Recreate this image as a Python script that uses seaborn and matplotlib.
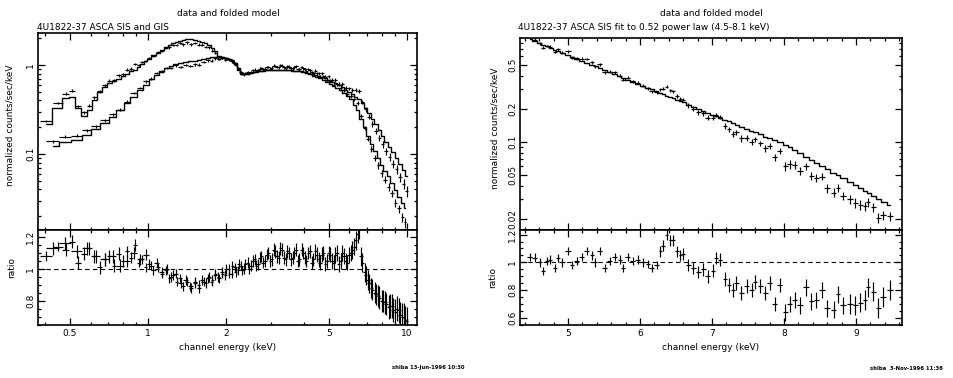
import matplotlib
matplotlib.use("Agg")
import matplotlib.pyplot as plt
import numpy as np
import seaborn as sns
from matplotlib.ticker import FixedLocator, NullFormatter, MultipleLocator

# ---- left plot: SIS and GIS, folded model + ratio ----
sis_e = [0.405, 0.45, 0.481, 0.509, 0.536, 0.566, 0.594, 0.621, 0.65, 0.68,
         0.71, 0.74, 0.77, 0.80, 0.83, 0.86, 0.89, 0.92, 0.95, 0.98,
         1.01, 1.05, 1.09, 1.13, 1.17, 1.21, 1.25, 1.29, 1.33, 1.37,
         1.42, 1.47, 1.52, 1.57, 1.62, 1.67, 1.72, 1.77, 1.82, 1.87,
         1.93, 1.99, 2.05, 2.11, 2.17, 2.23, 2.29, 2.36, 2.43, 2.50,
         2.58, 2.66, 2.74, 2.83, 2.92, 3.01, 3.10, 3.20, 3.30, 3.40,
         3.51, 3.62, 3.73, 3.85, 3.97, 4.09, 4.22, 4.35, 4.48, 4.62,
         4.76, 4.91, 5.06, 5.22, 5.38, 5.55, 5.72, 5.90, 6.08, 6.27,
         6.46, 6.66, 6.87, 7.08, 7.30, 7.53, 7.76, 8.00, 8.25, 8.51,
         8.77, 9.04, 9.32, 9.61, 9.84]
sis_model = [0.22, 0.33, 0.425, 0.44, 0.33, 0.27, 0.31, 0.40, 0.50, 0.56,
             0.62, 0.66, 0.70, 0.75, 0.80, 0.85, 0.89, 0.95, 1.02, 1.10,
             1.17, 1.28, 1.38, 1.48, 1.58, 1.68, 1.76, 1.82, 1.88, 1.92,
             1.95, 1.94, 1.92, 1.88, 1.82, 1.75, 1.66, 1.56, 1.42, 1.24,
             1.22, 1.20, 1.17, 1.13, 1.05, 0.92, 0.82, 0.79, 0.80, 0.82,
             0.84, 0.85, 0.86, 0.87, 0.87, 0.88, 0.88, 0.88, 0.88, 0.87,
             0.87, 0.86, 0.86, 0.85, 0.84, 0.81, 0.79, 0.76, 0.74, 0.71,
             0.68, 0.64, 0.61, 0.58, 0.55, 0.52, 0.48, 0.45, 0.41, 0.36,
             0.31, 0.25, 0.20, 0.16, 0.13, 0.107, 0.09, 0.076, 0.065, 0.056,
             0.047, 0.039, 0.033, 0.028, 0.025]
sis_ratio = [1.08, 1.14, 1.12, 1.17, 1.04, 1.095, 1.13, 1.08, 1.01, 1.06,
             1.08, 1.02, 1.095, 1.05, 1.11, 1.07, 1.15, 1.04, 1.06, 1.01,
             1.03, 0.99, 1.01, 0.97, 0.99, 0.94, 0.96, 0.92, 0.94, 0.89,
             0.92, 0.88, 0.92, 0.90, 0.93, 0.91, 0.95, 0.93, 0.97, 0.95,
             0.98, 0.96, 1.00, 0.97, 1.01, 0.99, 1.02, 1.00, 1.04, 1.02,
             1.06, 1.03, 1.08, 1.05, 1.10, 1.06, 1.11, 1.07, 1.12, 1.06,
             1.10, 1.07, 1.12, 1.06, 1.10, 1.05, 1.11, 1.06, 1.09, 1.04,
             1.10, 1.05, 1.09, 1.04, 1.10, 1.05, 1.08, 1.04, 1.10, 1.14,
             1.22, 1.08, 0.98, 0.93, 0.88, 0.85, 0.83, 0.80, 0.79, 0.76,
             0.77, 0.73, 0.74, 0.70, 0.68]
sis_err = [0.03, 0.03, 0.04, 0.04, 0.04, 0.04, 0.04, 0.04, 0.04, 0.04,
           0.04, 0.04, 0.04, 0.035, 0.035, 0.035, 0.035, 0.03, 0.03, 0.03,
           0.03, 0.03, 0.03, 0.03, 0.03, 0.03, 0.03, 0.03, 0.03, 0.03,
           0.03, 0.03, 0.03, 0.03, 0.03, 0.03, 0.03, 0.03, 0.03, 0.03,
           0.03, 0.03, 0.03, 0.03, 0.03, 0.03, 0.03, 0.035, 0.035, 0.035,
           0.035, 0.035, 0.035, 0.035, 0.035, 0.04, 0.04, 0.04, 0.04, 0.04,
           0.04, 0.04, 0.04, 0.04, 0.04, 0.04, 0.04, 0.04, 0.045, 0.045,
           0.045, 0.045, 0.045, 0.05, 0.05, 0.05, 0.05, 0.05, 0.05, 0.055,
           0.06, 0.06, 0.06, 0.06, 0.065, 0.065, 0.07, 0.07, 0.07, 0.075,
           0.075, 0.08, 0.08, 0.085, 0.09]

gis_e = [0.43, 0.48, 0.53, 0.58, 0.63, 0.68, 0.73, 0.78, 0.83, 0.88,
         0.93, 0.98, 1.03, 1.08, 1.13, 1.18, 1.23, 1.28, 1.34, 1.40,
         1.46, 1.52, 1.58, 1.64, 1.70, 1.76, 1.82, 1.88, 1.94, 2.00,
         2.06, 2.12, 2.18, 2.24, 2.31, 2.38, 2.46, 2.54, 2.62, 2.70,
         2.79, 2.88, 2.97, 3.06, 3.15, 3.25, 3.35, 3.46, 3.57, 3.68,
         3.80, 3.92, 4.04, 4.17, 4.30, 4.43, 4.56, 4.70, 4.84, 4.99,
         5.14, 5.30, 5.46, 5.63, 5.80, 5.98, 6.16, 6.35, 6.54, 6.74,
         6.94, 7.15, 7.37, 7.60, 7.83, 8.07, 8.32, 8.58, 8.85, 9.13,
         9.42, 9.72, 10.0]
gis_model = [0.123, 0.135, 0.145, 0.163, 0.19, 0.225, 0.26, 0.31, 0.37, 0.44,
             0.52, 0.60, 0.69, 0.78, 0.86, 0.93, 0.98, 1.02, 1.05, 1.08,
             1.10, 1.12, 1.15, 1.17, 1.20, 1.22, 1.24, 1.25, 1.23, 1.21,
             1.18, 1.12, 1.02, 0.88, 0.80, 0.79, 0.81, 0.83, 0.84, 0.85,
             0.86, 0.87, 0.87, 0.88, 0.88, 0.88, 0.88, 0.87, 0.87, 0.86,
             0.86, 0.85, 0.84, 0.82, 0.80, 0.78, 0.76, 0.74, 0.71, 0.68,
             0.65, 0.62, 0.59, 0.56, 0.53, 0.50, 0.47, 0.44, 0.41, 0.37,
             0.33, 0.29, 0.25, 0.215, 0.185, 0.16, 0.138, 0.12, 0.104, 0.09,
             0.077, 0.066, 0.057]
gis_ratio = [1.13, 1.16, 1.11, 1.13, 1.08, 1.06, 1.08, 1.02, 1.05, 1.10,
             1.06, 1.09, 1.02, 1.04, 0.98, 1.00, 0.95, 0.97, 0.91, 0.93,
             0.89, 0.91, 0.88, 0.92, 0.94, 0.92, 0.96, 0.94, 0.97, 1.00,
             0.97, 1.02, 0.98, 1.03, 0.99, 1.03, 1.00, 1.05, 1.02, 1.07,
             1.04, 1.09, 1.05, 1.12, 1.08, 1.13, 1.07, 1.11, 1.06, 1.10,
             1.05, 1.12, 1.07, 1.10, 1.04, 1.11, 1.06, 1.09, 1.03, 1.10,
             1.05, 1.09, 1.03, 1.10, 1.05, 1.09, 1.12, 1.18, 1.25, 1.04,
             0.96, 0.91, 0.87, 0.84, 0.82, 0.80, 0.78, 0.77, 0.74, 0.75,
             0.71, 0.70, 0.67]
gis_err = [0.04, 0.04, 0.04, 0.04, 0.04, 0.04, 0.04, 0.04, 0.04, 0.035,
           0.035, 0.035, 0.03, 0.03, 0.03, 0.03, 0.03, 0.03, 0.03, 0.03,
           0.03, 0.03, 0.03, 0.03, 0.03, 0.03, 0.03, 0.03, 0.03, 0.03,
           0.03, 0.03, 0.03, 0.03, 0.03, 0.035, 0.035, 0.035, 0.035, 0.035,
           0.035, 0.035, 0.04, 0.04, 0.04, 0.04, 0.04, 0.04, 0.04, 0.04,
           0.04, 0.04, 0.04, 0.04, 0.04, 0.045, 0.045, 0.045, 0.045, 0.045,
           0.05, 0.05, 0.05, 0.05, 0.05, 0.05, 0.055, 0.06, 0.06, 0.06,
           0.06, 0.06, 0.065, 0.065, 0.07, 0.07, 0.07, 0.075, 0.075, 0.08,
           0.08, 0.085, 0.09]

# ---- right plot: SIS fit to power law ----
pl_e = [4.47, 4.54, 4.61, 4.65, 4.71, 4.75, 4.82, 4.86, 4.92, 5.00,
        5.06, 5.12, 5.19, 5.26, 5.33, 5.38, 5.44, 5.51, 5.58, 5.65,
        5.72, 5.76, 5.83, 5.90, 5.97, 6.04, 6.11, 6.16, 6.23, 6.28,
        6.32, 6.37, 6.42, 6.46, 6.51, 6.56, 6.60, 6.67, 6.74, 6.81,
        6.88, 6.94, 7.01, 7.06, 7.11, 7.18, 7.23, 7.29, 7.34, 7.41,
        7.48, 7.55, 7.60, 7.67, 7.74, 7.80, 7.87, 7.94, 8.02, 8.08,
        8.15, 8.22, 8.31, 8.38, 8.45, 8.53, 8.60, 8.69, 8.75, 8.82,
        8.92, 8.99, 9.06, 9.13, 9.17, 9.24, 9.31, 9.38, 9.47]
pl_model = [0.859, 0.822, 0.787, 0.767, 0.739, 0.721, 0.690, 0.675, 0.649, 0.618,
            0.596, 0.573, 0.550, 0.526, 0.504, 0.488, 0.470, 0.450, 0.431, 0.412,
            0.394, 0.385, 0.369, 0.353, 0.338, 0.324, 0.310, 0.301, 0.288, 0.279,
            0.272, 0.264, 0.255, 0.249, 0.242, 0.234, 0.229, 0.219, 0.209, 0.200,
            0.192, 0.185, 0.177, 0.171, 0.166, 0.159, 0.155, 0.149, 0.144, 0.138,
            0.132, 0.126, 0.123, 0.117, 0.112, 0.108, 0.104, 0.0993, 0.0940, 0.0893,
            0.0840, 0.0790, 0.0730, 0.0687, 0.0646, 0.0603, 0.0566, 0.0524, 0.0497, 0.0467,
            0.0428, 0.0403, 0.0379, 0.0356, 0.0344, 0.0323, 0.0304, 0.0286, 0.0264]
pl_ratio = [1.04, 1.035, 1.0, 0.94, 1.01, 1.02, 0.96, 1.03, 1.0, 1.08,
            0.98, 1.01, 1.04, 1.08, 1.05, 1.0, 1.08, 0.96, 1.01, 1.04,
            1.02, 0.96, 1.04, 1.01, 1.02, 1.0, 0.99, 0.96, 0.98, 1.08,
            1.12, 1.2, 1.16, 1.16, 1.08, 1.05, 1.06, 0.98, 0.96, 0.93,
            0.95, 0.9, 0.94, 1.03, 1.02, 0.88, 0.84, 0.8, 0.85, 0.78,
            0.83, 0.8, 0.86, 0.83, 0.78, 0.85, 0.7, 0.84, 0.64, 0.7,
            0.73, 0.69, 0.82, 0.72, 0.73, 0.8, 0.67, 0.66, 0.77, 0.69,
            0.7, 0.69, 0.71, 0.73, 0.82, 0.79, 0.67, 0.75, 0.8]
pl_err = [0.03, 0.03, 0.03, 0.03, 0.03, 0.03, 0.03, 0.03, 0.03, 0.03,
          0.03, 0.03, 0.03, 0.03, 0.03, 0.03, 0.03, 0.03, 0.03, 0.03,
          0.03, 0.03, 0.03, 0.03, 0.03, 0.03, 0.03, 0.03, 0.03, 0.04,
          0.04, 0.04, 0.04, 0.04, 0.04, 0.04, 0.04, 0.045, 0.045, 0.045,
          0.045, 0.045, 0.045, 0.045, 0.045, 0.05, 0.05, 0.05, 0.05, 0.05,
          0.05, 0.05, 0.05, 0.05, 0.05, 0.05, 0.05, 0.05, 0.06, 0.06,
          0.06, 0.06, 0.06, 0.06, 0.06, 0.06, 0.06, 0.06, 0.06, 0.06,
          0.07, 0.07, 0.07, 0.07, 0.07, 0.07, 0.07, 0.07, 0.07]

sns.set_style("ticks")
plt.rcParams['font.family'] = ['DejaVu Sans']
plt.rcParams['font.size'] = 6.5
for key in ('text.color', 'axes.labelcolor', 'xtick.color', 'ytick.color', 'axes.edgecolor'):
    plt.rcParams[key] = 'black'

W, H = 954, 378
fig = plt.figure(figsize=(W / 100, H / 100), dpi=100)


def box(x0, y0, x1, y1):
    # pixel box -> figure fraction
    return [x0 / W, 1 - y1 / H, (x1 - x0) / W, (y1 - y0) / H]


ax1 = fig.add_axes(box(38, 33, 417, 230))
ax2 = fig.add_axes(box(38, 230, 417, 325), sharex=ax1)
ax3 = fig.add_axes(box(520, 38, 902, 230))
ax4 = fig.add_axes(box(520, 230, 902, 325), sharex=ax3)

ax1.set_xscale('log')
ax1.set_yscale('log')
ax3.set_yscale('log')


def spectrum(ax, axr, e, mod, rat, err):
    e = np.array(e)
    mod = np.array(mod)
    rat = np.array(rat)
    err = np.array(err)
    half = np.gradient(e) / 2
    sns.lineplot(x=e, y=mod, ax=ax, color='k', lw=1.0, drawstyle='steps-mid',
                 estimator=None, sort=False)
    ax.errorbar(e, mod * rat, yerr=mod * err, xerr=half, fmt='none',
                ecolor='k', elinewidth=0.85, capsize=0)
    axr.errorbar(e, rat, yerr=err, xerr=half, fmt='none',
                 ecolor='k', elinewidth=0.85, capsize=0)


spectrum(ax1, ax2, sis_e, sis_model, sis_ratio, sis_err)
spectrum(ax1, ax2, gis_e, gis_model, gis_ratio, gis_err)
spectrum(ax3, ax4, pl_e, pl_model, pl_ratio, pl_err)

for axr in (ax2, ax4):
    axr.axhline(1, color='k', lw=0.8, ls=(0, (4, 3)))

# axes limits and ticks
ax2.set_xlim(0.376, 10.95)
ax2.set_xticks([0.5, 1, 2, 5, 10], labels=['0.5', '1', '2', '5', '10'])
ax2.xaxis.set_minor_locator(FixedLocator([0.4, 0.6, 0.7, 0.8, 0.9, 3, 4, 6, 7, 8, 9]))
ax2.xaxis.set_minor_formatter(NullFormatter())

ax1.set_ylim(0.014, 2.29)
ax1.set_yticks([0.1, 1], labels=['0.1', '1'])
ax1.yaxis.set_minor_locator(FixedLocator([0.02, 0.03, 0.04, 0.05, 0.06, 0.07, 0.08, 0.09,
                                          0.2, 0.3, 0.4, 0.5, 0.6, 0.7, 0.8, 0.9, 2]))
ax1.yaxis.set_minor_formatter(NullFormatter())

ax2.set_ylim(0.648, 1.244)
ax2.set_yticks([0.8, 1, 1.2], labels=['0.8', '1', '1.2'])
ax2.yaxis.set_minor_locator(MultipleLocator(0.05))

ax4.set_xlim(4.333, 9.64)
ax4.set_xticks([5, 6, 7, 8, 9], labels=['5', '6', '7', '8', '9'])
ax4.xaxis.set_minor_locator(MultipleLocator(0.2))

ax3.set_ylim(0.0158, 0.882)
ax3.set_yticks([0.02, 0.05, 0.1, 0.2, 0.5], labels=['0.02', '0.05', '0.1', '0.2', '0.5'])
ax3.yaxis.set_minor_locator(FixedLocator([0.03, 0.04, 0.06, 0.07, 0.08, 0.09,
                                          0.3, 0.4, 0.6, 0.7, 0.8]))
ax3.yaxis.set_minor_formatter(NullFormatter())

ax4.set_ylim(0.549, 1.233)
ax4.set_yticks([0.6, 0.8, 1, 1.2], labels=['0.6', '0.8', '1', '1.2'])
ax4.yaxis.set_minor_locator(MultipleLocator(0.05))

for ax in (ax1, ax2, ax3, ax4):
    ax.tick_params(which='both', direction='in', top=True, right=True,
                   width=0.9, colors='k', labelsize=6.5, pad=3)
    ax.tick_params(which='major', length=5)
    ax.tick_params(which='minor', length=2.5)
    ax.tick_params(axis='y', labelrotation=90, pad=2)
    plt.setp(ax.get_yticklabels(), va='center')
    for s in ax.spines.values():
        s.set_linewidth(1.2)
        s.set_color('k')
for ax in (ax1, ax3):
    ax.tick_params(axis='x', which='both', labelbottom=False)

# labels
ax1.set_ylabel('normalized counts/sec/keV')
ax1.yaxis.set_label_coords(-0.062, 0.53)
ax2.set_ylabel('ratio')
ax2.yaxis.set_label_coords(-0.057, 0.6)
ax2.set_xlabel('channel energy (keV)')
ax2.xaxis.set_label_coords(0.5, -0.19)

ax3.set_ylabel('normalized counts/sec/keV')
ax3.yaxis.set_label_coords(-0.054, 0.53)
ax4.set_ylabel('ratio')
ax4.yaxis.set_label_coords(-0.059, 0.5)
ax4.set_xlabel('channel energy (keV)')
ax4.xaxis.set_label_coords(0.5, -0.19)

fig.text(228 / W, 1 - 13 / H, 'data and folded model', ha='center', va='center')
fig.text(37 / W, 1 - 27 / H, '4U1822-37 ASCA SIS and GIS', ha='left', va='center')
fig.text(711 / W, 1 - 13 / H, 'data and folded model', ha='center', va='center')
fig.text(518 / W, 1 - 27 / H, '4U1822-37 ASCA SIS fit to 0.52 power law (4.5-8.1 keV)',
         ha='left', va='center')

fig.text(465 / W, 1 - 368 / H, 'shiba 13-Jun-1996 10:30', ha='right', va='center',
         fontsize=3.8, fontweight='bold')
fig.text(943 / W, 1 - 368 / H, 'shiba  3-Nov-1996 11:36', ha='right', va='center',
         fontsize=3.8, fontweight='bold')

fig.savefig('out.png', dpi=100)
